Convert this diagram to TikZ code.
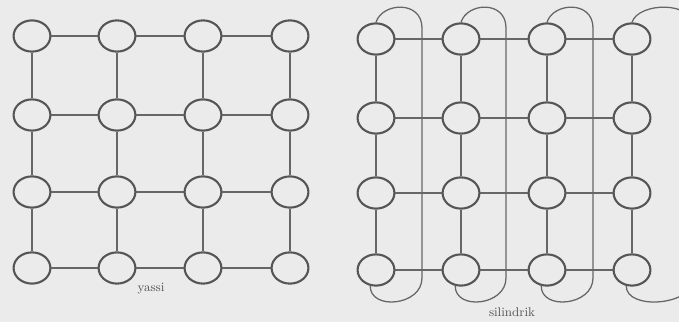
\documentclass[tikz,border=0pt]{standalone}
\usepackage{tikz}
\usetikzlibrary{shapes.geometric, calc}
\definecolor{paper}{HTML}{EBEBEB}
\definecolor{ink}{HTML}{666666}
\definecolor{inkdark}{HTML}{555555}
\tikzset{
  pe/.style={draw=inkdark, line width=1.5pt, ellipse, inner sep=0pt,
             minimum width=0.92cm, minimum height=0.78cm},
  link/.style={draw=ink, line width=0.9pt},
  wrap/.style={draw=ink, line width=0.9pt},
  gridlabel/.style={font=\small, text=inkdark},
}

\begin{document}
\begin{tikzpicture}[x=0.025cm, y=-0.025cm]
  \fill[paper] (0,0) rectangle (679,322);
  \clip (0,0) rectangle (679,322);

  % yassi
  \foreach \c/\x in {1/32, 2/117, 3/203, 4/290}
    \foreach \r/\y in {1/36, 2/115, 3/192, 4/268}
      \node[pe] (y-\r-\c) at (\x,\y) {};
  \foreach \r in {1,...,4} {
    \foreach \c/\d in {1/2, 2/3, 3/4}
      \draw[link] (y-\r-\c) -- (y-\r-\d);
  }
  \foreach \c in {1,...,4} {
    \foreach \r/\s in {1/2, 2/3, 3/4}
      \draw[link] (y-\r-\c) -- (y-\s-\c);
  }
  \node[gridlabel] (ylab) at (151,289) {yassi};

  % silindrik
  \foreach \c/\x in {1/376, 2/461, 3/547, 4/632}
    \foreach \r/\y in {1/39, 2/118, 3/193, 4/270}
      \node[pe] (s-\r-\c) at (\x,\y) {};
  \foreach \r in {1,...,4} {
    \foreach \c/\d in {1/2, 2/3, 3/4}
      \draw[link] (s-\r-\c) -- (s-\r-\d);
  }
  \foreach \c in {1,...,4} {
    \foreach \r/\s in {1/2, 2/3, 3/4}
      \draw[link] (s-\r-\c) -- (s-\s-\c);
  }
  \foreach \c/\v in {1/422, 2/506, 3/593, 4/694} {
    \draw[wrap] (s-1-\c.north) .. controls ($(s-1-\c.north)+(6,-20)$) and (\v,0) .. (\v,28)
      -- (\v,278) .. controls (\v,306) and ($(s-4-\c.south)+(-6,24)$) .. (s-4-\c.250);
  }
  \node[gridlabel] (slab) at (512,312) {silindrik};
\end{tikzpicture}
\end{document}
